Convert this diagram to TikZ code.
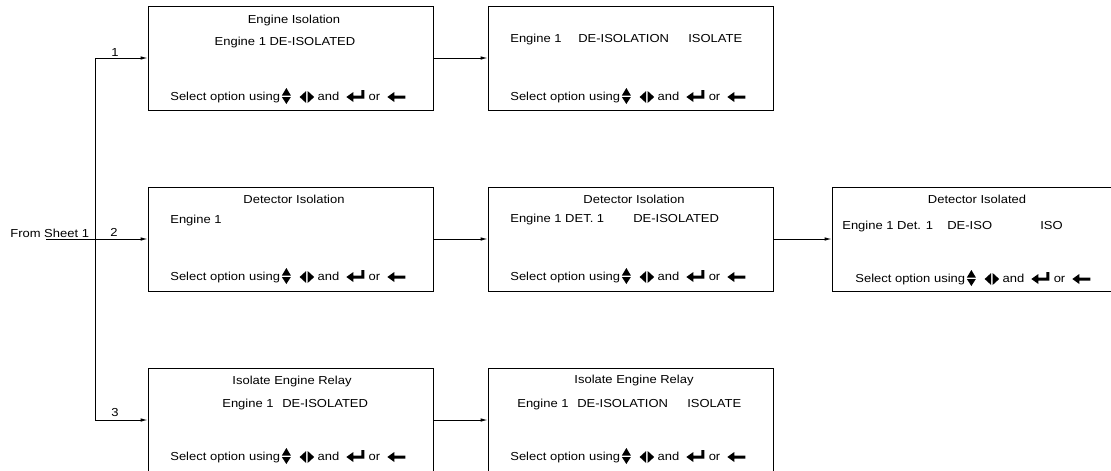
\documentclass[tikz,border=0pt]{standalone}
\usepackage{fontspec}
\setmainfont{Liberation Sans}[FakeStretch=1.12]
\usepackage{tikz}
\usetikzlibrary{arrows.meta,positioning}
\newcommand\scrfont{\fontsize{6.6}{8}\selectfont}
% key symbols (units in px, origin on the baseline)
\newcommand\keyud{\tikz[x=0.02cm,y=0.02cm,baseline=0pt]{\fill (0,4.5)--(9,4.5)--(4.5,12)--cycle (0,3)--(9,3)--(4.5,-4)--cycle;}}
\newcommand\keylr{\tikz[x=0.02cm,y=0.02cm,baseline=0pt]{\fill (0,3)--(6.5,9)--(6.5,-3)--cycle (8,9)--(14.5,3)--(8,-3)--cycle;}}
\newcommand\keyent{\tikz[x=0.02cm,y=0.02cm,baseline=0pt]{\fill (0,3)--(7,8)--(7,4.5)--(15,4.5)--(15,10)--(18,10)--(18,1.5)--(7,1.5)--(7,-2)--cycle;}}
\newcommand\keybk{\tikz[x=0.02cm,y=0.02cm,baseline=0pt]{\fill (0,3)--(7,8)--(7,4.5)--(18,4.5)--(18,1.5)--(7,1.5)--(7,-2)--cycle;}}
\newcommand\selopt{Select option using\hspace{1pt}\keyud\hspace{5pt}\keylr\hspace{2pt}and\hspace{4pt}\keyent\hspace{2.5pt}or\hspace{4pt}\keybk}

\begin{document}
\begin{tikzpicture}[x=0.02cm, y=-0.02cm,
  scr/.style={draw, line width=0.5pt, minimum width=5.7cm, minimum height=2.08cm, inner sep=0pt},
  txt/.style={font=\scrfont, inner sep=0pt, anchor=base},
  txtl/.style={txt, anchor=base west},
  conn/.style={line width=0.5pt, -{Latex[length=4pt,width=2pt]}}]
\useasboundingbox (0,0) rectangle (1111,470);
% screens
\node[scr] (eIso)   at (290.5,58)  {};
\node[scr] (eDeIso) at (630.5,58)  {};
\node[scr] (dIso)   at (290.5,239) {};
\node[scr] (dSel)   at (630.5,239) {};
\node[scr] (dDone)  at (974.5,239) {};
\node[scr] (rIso)   at (290.5,420) {};
\node[scr] (rDeIso) at (630.5,420) {};
% screen titles
\node[txt] (eIsoT)  at (294,23)  {Engine Isolation};
\node[txt] (dIsoT)  at (294,203) {Detector Isolation};
\node[txt] (dSelT)  at (634,203) {Detector Isolation};
\node[txt] (dDoneT) at (977,203) {Detector Isolated};
\node[txt] (rIsoT)  at (292,384) {Isolate Engine Relay};
\node[txt] (rDeIsoT) at (634,383) {Isolate Engine Relay};
% screen contents
\node[txt]  (eIsoL)   at (285,45)   {Engine 1 DE-ISOLATED};
\node[txtl] (eDeIsoA) at (510,42)   {Engine 1};
\node[txtl] (eDeIsoB) at (578,42)   {DE-ISOLATION};
\node[txtl] (eDeIsoC) at (688,42)   {ISOLATE};
\node[txtl] (dIsoL)   at (170,223)  {Engine 1};
\node[txtl] (dSelA)   at (510,222)  {Engine 1 DET. 1};
\node[txtl] (dSelB)   at (633,222)  {DE-ISOLATED};
\node[txtl] (dDoneA)  at (842,229)  {Engine 1 Det. 1};
\node[txtl] (dDoneB)  at (947,229)  {DE-ISO};
\node[txtl] (dDoneC)  at (1040,229) {ISO};
\node[txtl] (rIsoA)   at (222,407)  {Engine 1};
\node[txtl] (rIsoB)   at (282,407)  {DE-ISOLATED};
\node[txtl] (rDeIsoA) at (517,407)  {Engine 1};
\node[txtl] (rDeIsoB) at (577,407)  {DE-ISOLATION};
\node[txtl] (rDeIsoC) at (687,407)  {ISOLATE};
% key hints
\foreach \n/\x/\y in {e1/170/100, e2/510/100, d1/170/280, d2/510/280, d3/855/282, r1/170/460, r2/510/460}
  \node[txtl] (sel\n) at (\x,\y) {\selopt};
% entry from sheet 1
\node[txtl] (src) at (10,237) {From Sheet 1};
\coordinate (srcl) at (46,239);
\coordinate (tr) at (95,239);
\draw[conn] (srcl) -- (dIso.west);
\draw[conn] (tr) |- (eIso.west);
\draw[conn] (tr) |- (rIso.west);
\node[txt] (opt1) at (115,56)  {1};
\node[txt] (opt2) at (114,236) {2};
\node[txt] (opt3) at (115,416) {3};
% screen to screen
\draw[conn] (eIso.east) -- (eDeIso.west);
\draw[conn] (dIso.east) -- (dSel.west);
\draw[conn] (dSel.east) -- (dDone.west);
\draw[conn] (rIso.east) -- (rDeIso.west);
\end{tikzpicture}
\end{document}
